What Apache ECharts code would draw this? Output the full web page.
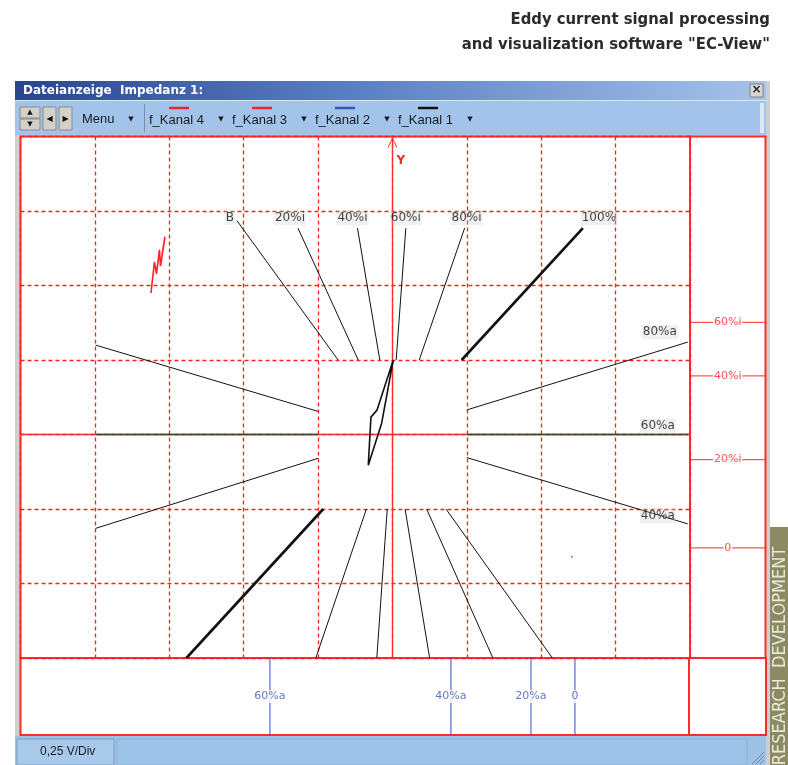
<!DOCTYPE html>
<html><head><meta charset="utf-8">
<script src="https://cdn.jsdelivr.net/npm/echarts@6/dist/echarts.min.js"></script>
<style>html,body{margin:0;padding:0;background:#fff}#c{width:788px;height:765px}</style>
</head><body><div id="c"></div>
<script>
// ---------- DATA (chart units: divisions, origin at impedance centre) ----------
const topLabels   = ['B', '20%i', '40%i', '60%i', '80%i', '100%'];
const topOuter    = [[-2.09, 2.87], [-1.27, 2.77], [-0.47, 2.77], [0.18, 2.77], [0.97, 2.77], [2.56, 2.77]];
const topInner    = [[-0.73, 1.00], [-0.46, 1.00], [-0.17, 1.00], [0.05, 1.00], [0.36, 1.00], [0.93, 1.00]];
const rightLabels = ['80%a', '60%a', '40%a'];
const rightOuter  = [[3.97, 1.24], [3.97, 0], [3.97, -1.20]];
const rightInner  = [[1.00, 0.33], [1.00, 0], [1.00, -0.31]];
const leftOuter   = [[-3.99, 1.20], [-3.99, 0], [-3.99, -1.26]];
const leftInner   = [[-1.00, 0.31], [-1.00, 0], [-1.00, -0.32]];
const bottomOuter = [[-2.77, -3.0], [-1.03, -3.0], [-0.21, -3.0], [0.50, -3.0], [1.35, -3.0], [2.15, -3.0]];
const bottomInner = [[-0.93, -1.0], [-0.35, -1.0], [-0.07, -1.0], [0.17, -1.0], [0.46, -1.0], [0.72, -1.0]];
const signalKanal1 = [[0.011, 1.0], [-0.208, 0.327], [-0.289, 0.233], [-0.325, -0.413], [-0.145, 0.152], [0.011, 1.0]];
const signalKanal4 = [[-3.246, 1.899], [-3.199, 2.318], [-3.172, 2.157], [-3.132, 2.479], [-3.118, 2.264], [-3.058, 2.654], [-3.098, 2.412]];
const signalDot    = [[2.41, -1.64]];
const rightTickLabels  = ['60%i', '40%i', '20%i', '0'];
const rightTickY       = [1.504, 0.787, -0.336, -1.523];
const bottomTickLabels = ['60%a', '40%a', '20%a', '0'];
const bottomTickX      = [-1.647, 0.786, 1.862, 2.453];
const channels = ['f_Kanal 4', 'f_Kanal 3', 'f_Kanal 2', 'f_Kanal 1'];
const channelColors = ['#e8262b', '#e8262b', '#3a55b0', '#111111'];

// ---------- STYLE ----------
const RED = '#ff2a2a';
const topLabelOffset = [[-7, -3], [-8, -10], [-5, -10], [0, -10], [2, -10], [16, -10]];
const rightLabelOffset = [[-28, -10], [-30, -9], [-30, -8]];
const thickTop = [5], thickBottom = [0];

const series = [];
function seg(a, b, w, col) {
  series.push({type: 'line', xAxisIndex: 0, yAxisIndex: 0, data: [a, b], symbol: 'none',
    lineStyle: {color: col, width: w}, silent: true, z: 4});
}
topOuter.forEach((p, i) => seg(p, topInner[i], thickTop.includes(i) ? 2.6 : 1, '#111'));
bottomOuter.forEach((p, i) => seg(p, bottomInner[i], thickBottom.includes(i) ? 2.6 : 1, '#111'));
rightOuter.forEach((p, i) => seg(p, rightInner[i], p[1] === 0 ? 1.6 : 1, p[1] === 0 ? '#444' : '#111'));
leftOuter.forEach((p, i) => seg(p, leftInner[i], p[1] === 0 ? 1.6 : 1, p[1] === 0 ? '#444' : '#111'));

const lblStyle = {show: true, position: 'inside', formatter: '{b}', color: '#111', fontSize: 12,
  fontFamily: 'DejaVu Sans', backgroundColor: 'rgba(200,200,200,0.35)', padding: [1, 1]};
series.push({type: 'scatter', xAxisIndex: 0, yAxisIndex: 0, symbolSize: 1, silent: true, z: 6,
  itemStyle: {color: 'rgba(0,0,0,0)'},
  data: topOuter.map((p, i) => ({value: p, name: topLabels[i], label: Object.assign({}, lblStyle, {offset: topLabelOffset[i]})}))});
series.push({type: 'scatter', xAxisIndex: 0, yAxisIndex: 0, symbolSize: 1, silent: true, z: 6,
  itemStyle: {color: 'rgba(0,0,0,0)'},
  data: rightOuter.map((p, i) => ({value: p, name: rightLabels[i], label: Object.assign({}, lblStyle, {offset: rightLabelOffset[i]})}))});

series.push({type: 'line', xAxisIndex: 0, yAxisIndex: 0, data: signalKanal1, symbol: 'none',
  lineStyle: {color: '#111', width: 1.6}, silent: true, z: 7});
series.push({type: 'line', xAxisIndex: 0, yAxisIndex: 0, data: signalKanal4, symbol: 'none',
  lineStyle: {color: '#ff2020', width: 1.6}, silent: true, z: 7});
series.push({type: 'scatter', xAxisIndex: 0, yAxisIndex: 0, data: signalDot, symbolSize: 2,
  itemStyle: {color: '#ff2020'}, silent: true, z: 7});

series.push({type: 'scatter', xAxisIndex: 1, yAxisIndex: 1, silent: true, z: 5,
  data: rightTickY.map((y, i) => ({value: [0.5, y], name: rightTickLabels[i]})),
  symbol: 'rect', symbolSize: [75, 1.3], itemStyle: {color: RED},
  label: {show: true, position: 'inside', formatter: '{b}', color: RED, fontSize: 11, fontFamily: 'DejaVu Sans',
    backgroundColor: '#fff', padding: [0, 1]}});
series.push({type: 'scatter', xAxisIndex: 2, yAxisIndex: 2, silent: true, z: 5,
  data: bottomTickX.map((x, i) => ({value: [x, 0.5], name: bottomTickLabels[i]})),
  symbol: 'rect', symbolSize: [1.3, 77], itemStyle: {color: '#3b55b5'},
  label: {show: true, position: 'inside', formatter: '{b}', color: '#3b55b5', fontSize: 11, fontFamily: 'DejaVu Sans',
    backgroundColor: '#fff', padding: [1, 0]}});

// ---------- CHROME ----------
const FONT = '"Liberation Sans", Arial, sans-serif';
const g = [];
function rect(x, y, w, h, fill, stroke, z) {
  g.push({type: 'rect', z: z == null ? 10 : z, silent: true, shape: {x, y, width: w, height: h},
    style: {fill, stroke: stroke || null, lineWidth: 1}});
}
function text(t, x, y, font, fill, align, z, rot) {
  g.push({type: 'text', z: z == null ? 11 : z, silent: true, x, y, rotation: rot || 0,
    style: {text: t, font, fill, align: align || 'left', verticalAlign: 'middle',
      textAlign: align || 'left', textVerticalAlign: 'middle'}});
}
function line(x1, y1, x2, y2, col, w, z) {
  g.push({type: 'line', z: z == null ? 11 : z, silent: true, shape: {x1, y1, x2, y2},
    style: {stroke: col, lineWidth: w}});
}
// header
const HF = 'bold 16.5px "DejaVu Sans Condensed", "DejaVu Sans", sans-serif';
text('Eddy current signal processing', 770, 20, HF, '#2b2b2b', 'right');
text('and visualization software "EC-View"', 770, 45, HF, '#2b2b2b', 'right');
// window frame
rect(15, 81, 755, 684, '#cfcfcf', null, -5);
// title bar
g.push({type: 'rect', z: 10, silent: true, shape: {x: 15, y: 81, width: 751, height: 19},
  style: {fill: new echarts.graphic.LinearGradient(0, 0, 1, 0, [
    {offset: 0, color: '#2a4590'}, {offset: 0.45, color: '#5a7fc4'}, {offset: 1, color: '#a5c3ea'}])}});
text('Dateianzeige  Impedanz 1:', 23, 91, 'bold 12px "DejaVu Sans", sans-serif', '#ffffff', 'left');
rect(750, 84, 13, 13, '#d8d6d0', '#808080');
text('×', 756.5, 90, 'bold 12px "DejaVu Sans", sans-serif', '#222', 'center');
// toolbar
rect(15, 100, 751, 35, '#a2c4eb');
line(15, 100.5, 766, 100.5, '#d7e6f7', 1);
rect(760, 103, 4, 30, '#dfe9f5');
rect(20, 107, 20, 11, '#d4d0c8', '#8a8a8a');
rect(20, 119, 20, 11, '#d4d0c8', '#8a8a8a');
text('▲', 30, 112.5, '7px "DejaVu Sans"', '#111', 'center');
text('▼', 30, 124.5, '7px "DejaVu Sans"', '#111', 'center');
rect(43, 107, 13, 23, '#d4d0c8', '#8a8a8a');
rect(59, 107, 13, 23, '#d4d0c8', '#8a8a8a');
text('◀', 49.5, 118.5, '8px "DejaVu Sans"', '#111', 'center');
text('▶', 65.5, 118.5, '8px "DejaVu Sans"', '#111', 'center');
text('Menu', 82, 119, '13px ' + FONT, '#1a1a1a', 'left');
text('▼', 131, 119, '7px "DejaVu Sans"', '#1a1a1a', 'center');
line(144.5, 104, 144.5, 132, '#7f8ea3', 1);
const chX = [149, 232, 315, 398];
channels.forEach((c, i) => {
  text(c, chX[i], 120, '13px ' + FONT, '#1a1a1a', 'left');
  line(chX[i] + 20, 108, chX[i] + 40, 108, channelColors[i], 2.5);
  text('▼', chX[i] + 72, 119, '7px "DejaVu Sans"', '#1a1a1a', 'center');
});
// bottom-right panel extension
rect(689, 658, 77, 77, '#ffffff', RED, 10);
g[g.length - 1].style.lineWidth = 2;
// status bar
rect(15, 736, 751, 29, '#9dc2e6');
rect(17, 739, 97, 26, '#a7c9ea', '#7d9cc0');
text('0,25 V/Div', 40, 752, '12px ' + FONT, '#1a1a1a', 'left');
rect(117, 739, 630, 26, '#9ec3e8', '#8fb0d6');
for (let k = 0; k < 3; k++) line(752 + k * 4, 764, 764, 752 + k * 4, '#6f87a6', 1);
// side tab
rect(770, 527, 18, 238, '#8b8a63', null, 10);
text('RESEARCH  DEVELOPMENT', 780, 656, '18px "DejaVu Sans Condensed", "DejaVu Sans", sans-serif', '#e9e7d8', 'center', 11, Math.PI / 2);

const axisCommon = {type: 'value', axisTick: {show: false}, axisLabel: {show: false}};
const gridLine = {show: true, lineStyle: {color: '#ff1f1f', width: 1.3, type: [4, 3]}};
const option = {
  animation: false,
  backgroundColor: '#ffffff',
  grid: [
    {left: 20.5, top: 136.5, width: 669.5, height: 521.5, show: true, backgroundColor: '#fff', borderColor: RED, borderWidth: 2},
    {left: 690, top: 136.5, width: 75.5, height: 521.5, show: true, backgroundColor: '#fff', borderColor: RED, borderWidth: 2},
    {left: 20.5, top: 658, width: 669.5, height: 77, show: true, backgroundColor: '#fff', borderColor: RED, borderWidth: 2}
  ],
  xAxis: [
    Object.assign({}, axisCommon, {gridIndex: 0, min: -5, max: 4, interval: 1,
      axisLine: {show: true, onZero: true, lineStyle: {color: RED, width: 1.3}},
      splitLine: gridLine}),
    Object.assign({}, axisCommon, {gridIndex: 1, min: 0, max: 1, show: false}),
    Object.assign({}, axisCommon, {gridIndex: 2, min: -5, max: 4, show: false})
  ],
  yAxis: [
    Object.assign({}, axisCommon, {gridIndex: 0, min: -3, max: 4, interval: 1,
      name: 'Y', nameLocation: 'end', nameGap: -30,
      nameTextStyle: {color: RED, fontWeight: 'bold', fontSize: 12, fontFamily: 'DejaVu Sans', align: 'left', padding: [0, 0, 0, 4]},
      axisLine: {show: true, onZero: true, lineStyle: {color: RED, width: 1.3},
        symbol: ['none', 'path://M0,10L5,0L10,10L9,10L5,2L1,10Z'], symbolSize: [10, 11], symbolOffset: [0, -6]},
      splitLine: gridLine}),
    Object.assign({}, axisCommon, {gridIndex: 1, min: -3, max: 4, show: false}),
    Object.assign({}, axisCommon, {gridIndex: 2, min: 0, max: 1, show: false})
  ],
  graphic: g,
  series
};
const chart = echarts.init(document.getElementById('c'));
chart.setOption(option);
</script>
</body></html>
